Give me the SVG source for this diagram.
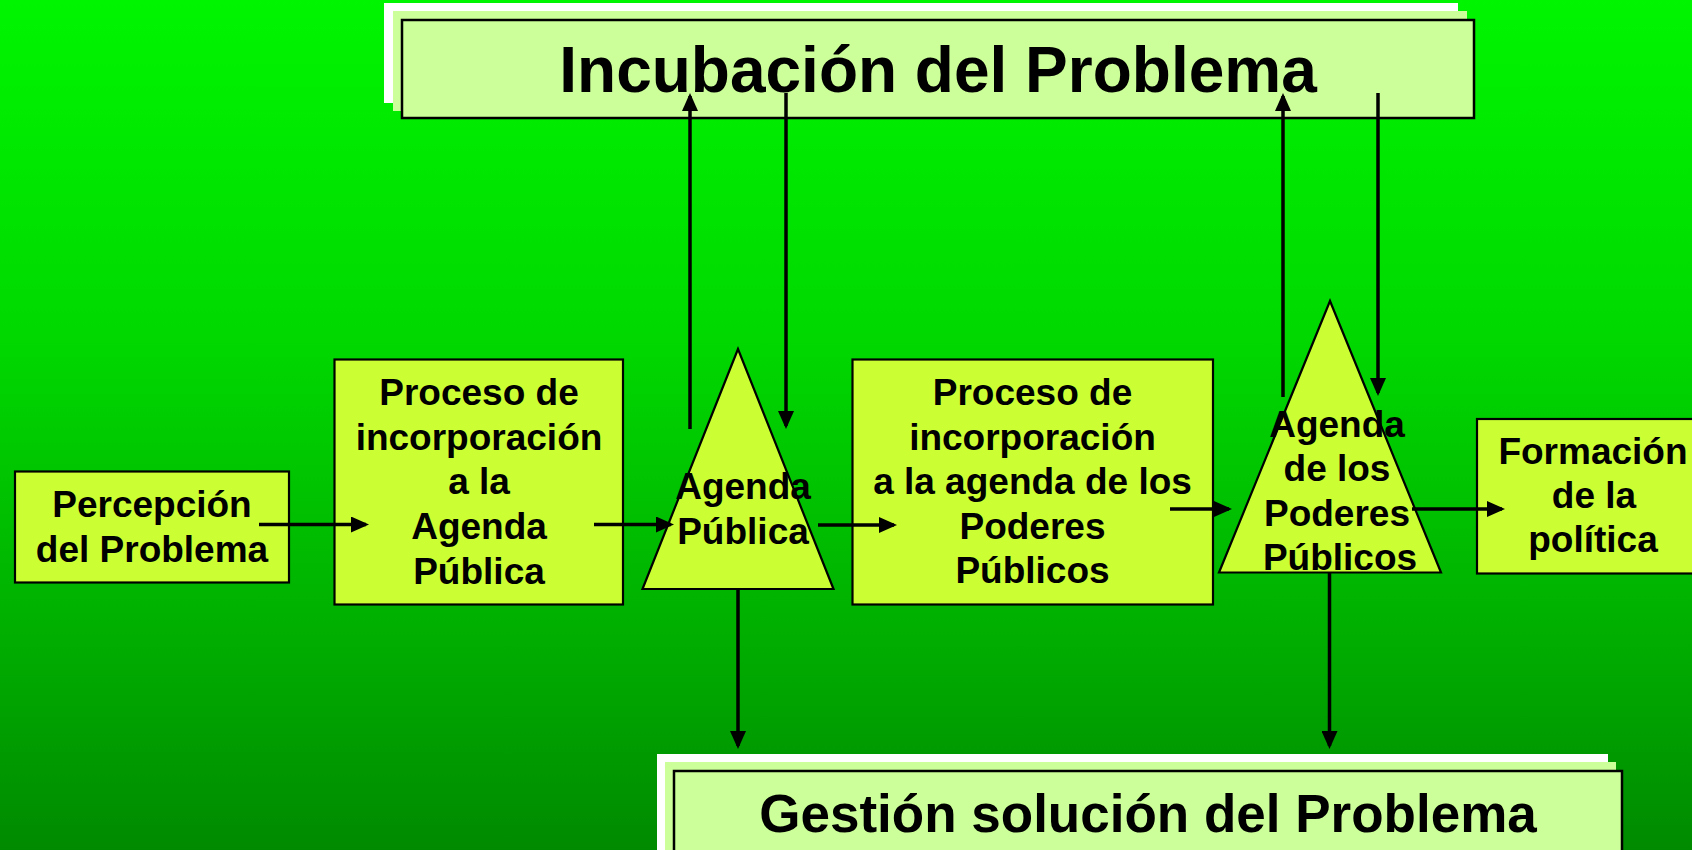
<svg xmlns="http://www.w3.org/2000/svg" width="1692" height="850" viewBox="0 0 1692 850">
<defs>
<linearGradient id="bg" x1="0" y1="0" x2="0" y2="1">
<stop offset="0" stop-color="#00F500"/>
<stop offset="0.4" stop-color="#00D800"/>
<stop offset="0.75" stop-color="#00AE00"/>
<stop offset="1" stop-color="#008A00"/>
</linearGradient>
<marker id="ah" markerUnits="userSpaceOnUse" markerWidth="18" markerHeight="16" refX="15" refY="8" orient="auto">
<path d="M0,0 L18,8 L0,16 z" fill="#000"/>
</marker>
<style>
.node{fill:#CCFF33;stroke:#000;stroke-width:2.2}
.big{fill:#CCFF99;stroke:#000;stroke-width:2.5}
.back1{fill:#FFFFFF}
.back2{fill:#CCFF99}
.t{font-family:"Liberation Sans",Arial,sans-serif;font-weight:bold;font-size:37px;fill:#000;text-anchor:middle}
.tb{font-family:"Liberation Sans",Arial,sans-serif;font-weight:bold;fill:#000;text-anchor:middle}
.c{stroke:#000;stroke-width:3.5;fill:none;marker-end:url(#ah)}
</style>
</defs>
<rect x="0" y="0" width="1692" height="850" fill="url(#bg)"/>

<g id="incubacion">
<rect class="back1" x="384" y="3" width="1074" height="100"/>
<rect class="back2" x="393" y="11" width="1074" height="100"/>
<rect class="big" x="402" y="20" width="1072" height="98"/>
<text class="tb" x="938" y="92" font-size="64">Incubación del Problema</text>
</g>

<g id="gestion">
<rect class="back1" x="657" y="754" width="951" height="110"/>
<rect class="back2" x="665" y="762" width="951" height="110"/>
<rect class="big" x="674" y="771" width="948" height="100"/>
<text class="tb" x="1148" y="832" font-size="53">Gestión solución del Problema</text>
</g>

<g id="percepcion">
<rect class="node" x="15" y="471.5" width="274" height="111"/>
<text class="t" x="152" y="517">Percepción</text>
<text class="t" x="152" y="562">del Problema</text>
</g>

<g id="proceso1">
<rect class="node" x="334.5" y="359.5" width="288.5" height="245"/>
<text class="t" x="479" y="405">Proceso de</text>
<text class="t" x="479" y="450">incorporación</text>
<text class="t" x="479" y="494">a la</text>
<text class="t" x="479" y="539">Agenda</text>
<text class="t" x="479" y="584">Pública</text>
</g>

<g id="agendaPublica">
<polygon class="node" points="738,349 642.5,589 833.5,589"/>
<text class="t" x="743" y="499">Agenda</text>
<text class="t" x="743" y="544">Pública</text>
</g>

<g id="proceso2">
<rect class="node" x="852.5" y="359.5" width="360.5" height="245"/>
<text class="t" x="1032.5" y="405">Proceso de</text>
<text class="t" x="1032.5" y="450">incorporación</text>
<text class="t" x="1032.5" y="494">a la agenda de los</text>
<text class="t" x="1032.5" y="539">Poderes</text>
<text class="t" x="1032.5" y="583">Públicos</text>
</g>

<g id="agendaPoderes">
<polygon class="node" points="1330,301 1219,572.5 1441,572.5"/>
<text class="t" x="1337" y="437">Agenda</text>
<text class="t" x="1337" y="481">de los</text>
<text class="t" x="1337" y="526">Poderes</text>
<text class="t" x="1340" y="570">Públicos</text>
</g>

<g id="formacion">
<rect class="node" x="1477" y="419" width="240" height="154.5"/>
<text class="t" x="1593" y="464">Formación</text>
<text class="t" x="1594" y="508">de la</text>
<text class="t" x="1593" y="552">política</text>
</g>

<g id="connectors">
<line class="c" x1="259" y1="524.5" x2="366" y2="524.5"/>
<line class="c" x1="594" y1="524.5" x2="671" y2="524.5"/>
<line class="c" x1="818" y1="525" x2="894" y2="525"/>
<line class="c" x1="1170" y1="509" x2="1229" y2="509"/>
<line class="c" x1="1412" y1="509" x2="1502" y2="509"/>
<line class="c" x1="690" y1="429" x2="690" y2="96"/>
<line class="c" x1="786" y1="93" x2="786" y2="426"/>
<line class="c" x1="1283" y1="397" x2="1283" y2="96"/>
<line class="c" x1="1378" y1="93" x2="1378" y2="393"/>
<line class="c" x1="738" y1="589" x2="738" y2="746"/>
<line class="c" x1="1329.5" y1="572.5" x2="1329.5" y2="746"/>
</g>
</svg>
